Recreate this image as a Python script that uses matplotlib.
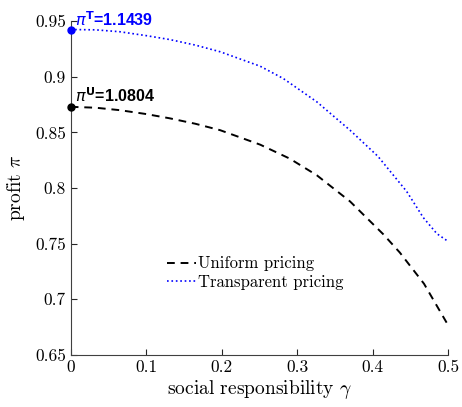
import matplotlib
matplotlib.use("Agg")
import matplotlib.pyplot as plt

# values
gamma_t = [0.0, 0.033, 0.065, 0.1, 0.131, 0.165, 0.198, 0.251, 0.2815, 0.326, 0.370, 0.407, 0.445, 0.467, 0.485, 0.5]
profit_t = [0.9425, 0.9422, 0.9405, 0.937, 0.9335, 0.9285, 0.9225, 0.9095, 0.8985, 0.8775, 0.852, 0.8285, 0.797, 0.7735, 0.759, 0.752]

gamma_u = [0.0, 0.033, 0.065, 0.1, 0.131, 0.165, 0.198, 0.251, 0.29, 0.326, 0.37, 0.414, 0.436, 0.468, 0.498]
profit_u = [0.873, 0.8722, 0.870, 0.8665, 0.8627, 0.8578, 0.852, 0.839, 0.8265, 0.8115, 0.788, 0.7585, 0.742, 0.714, 0.679]

label_t = r"$\pi^{\mathbf{T}}$=1.1439"
label_u = r"$\pi^{\mathbf{U}}$=1.0804"

plt.rcParams["font.family"] = "cmr10"
plt.rcParams["mathtext.fontset"] = "cm"
plt.rcParams["axes.formatter.use_mathtext"] = True

fig = plt.figure(figsize=(4.62, 4.07), dpi=100)
ax = fig.add_axes([0.153, 0.128, 0.817, 0.820])

ax.plot(gamma_u, profit_u, "k--", lw=1.4, dashes=(4, 3), label="Uniform pricing")
ax.plot(gamma_t, profit_t, color="blue", ls=":", lw=1.2, label="Transparent pricing")
ax.plot(gamma_t[0], profit_t[0], "o", color="blue", ms=5, clip_on=False, zorder=5)
ax.plot(gamma_u[0], profit_u[0], "o", color="black", ms=5, clip_on=False, zorder=5)

ax.text(0.006, profit_t[0] + 0.003, label_t, color="blue", fontsize=11.5,
        fontweight="bold", family="Liberation Sans", math_fontfamily="dejavusans")
ax.text(0.006, profit_u[0] + 0.004, label_u, color="black", fontsize=11.5,
        fontweight="bold", family="Liberation Sans", math_fontfamily="dejavusans")

ax.set_xlim(0, 0.5)
ax.set_ylim(0.65, 0.95)
ax.set_xticks([0, 0.1, 0.2, 0.3, 0.4, 0.5])
ax.set_xticklabels(["0", "0.1", "0.2", "0.3", "0.4", "0.5"])
ax.set_yticks([0.65, 0.7, 0.75, 0.8, 0.85, 0.9, 0.95])
ax.set_yticklabels(["0.65", "0.7", "0.75", "0.8", "0.85", "0.9", "0.95"])
ax.tick_params(direction="in", labelsize=12.5, color="#262626", length=4)
for side in ["top", "right"]:
    ax.spines[side].set_visible(False)
for side in ["left", "bottom"]:
    ax.spines[side].set_color("#404040")
ax.set_xlabel(r"social responsibility $\gamma$", fontsize=14, labelpad=2)
ax.set_ylabel(r"profit $\pi$", fontsize=14, labelpad=6)

ax.legend(loc="center", bbox_to_anchor=(0.49, 0.245), frameon=False, fontsize=12,
          handlelength=1.7, handletextpad=0.15, labelspacing=0.2)

fig.savefig("out.png", dpi=100)
